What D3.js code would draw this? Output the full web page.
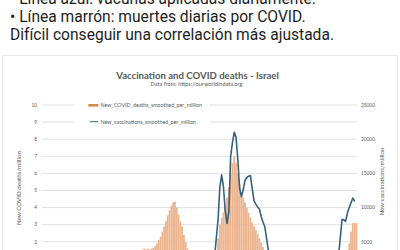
<!DOCTYPE html>
<html><head><meta charset="utf-8">
<script src="https://cdn.jsdelivr.net/npm/d3@7"></script>
<style>
html,body{margin:0;padding:0;background:#fff;overflow:hidden;width:400px;height:250px;}
</style></head>
<body><svg id="c" width="400" height="250"></svg>
<script>
// ---- data ----
const postLines = [
  "• Línea azul: vacunas aplicadas diariamente.",
  "• Línea marrón: muertes diarias por COVID.",
  "Difícil conseguir una correlación más ajustada."
];
const chartTitle = "Vaccination and COVID deaths - Israel";
const chartSubtitle = "Data from: https://ourworldindata.org";
const seriesNames = ["New_COVID_deaths_smoothed_per_million", "New_vaccinations_smoothed_per_million"];
const leftAxisTitle = "New COVID deaths/million";
const rightAxisTitle = "New vaccinations/million";
const leftTicks = [0,1,2,3,4,5,6,7,8,9,10];
const rightTicks = [0,5000,10000,15000,20000,25000];
const startDate = "2020-03-05", endDate = "2021-08-13", stepDays = 3;
// deaths per million, one value per 3-day step from 2020-03-05
const deaths = [
 0,0,0,0,0,0.02,0.05,0.1,0.2,0.35, 0.55,0.75,0.9,1.0,1.05,0.95,0.8,0.7,0.6,0.5,
 0.4,0.3,0.25,0.2,0.15,0.12,0.1,0.08,0.05,0.03, 0.02,0.02,0.03,0.02,0.03,0.05,0.05,0.06,0.08,0.1,
 0.15,0.2,0.3,0.4,0.5,0.6,0.7,0.8,0.9,1.0, 1.1,1.2,1.3,1.4,1.45,1.5,1.55,1.6,1.55,1.6,
 1.55,1.6,1.65,1.75,1.9,2.1,2.3,2.6,2.9,3.2, 3.55,3.85,4.1,4.3,4.35,4.0,3.6,3.2,2.9,2.4,
 2.0,1.6,1.35,1.2,1.1,1.0,0.95,0.9,0.9,0.95, 1.0,1.05,1.1,1.15,1.2,1.3,1.4,1.5,2.2,3.0,
 3.4,3.7,4.1,4.6,5.2,6.0,6.6,7.0,6.6,6.0, 5.4,4.9,4.6,4.3,4.0,3.7,3.4,3.1,2.9,2.7,
 2.45,2.2,1.95,1.7,1.5,1.3,1.1,0.95,0.8,0.65, 0.55,0.45,0.38,0.3,0.25,0.2,0.15,0.12,0.1,0.08,
 0.06,0.05,0.04,0.03,0.02,0.02,0.02,0.01,0.01,0.01, 0.01,0.01,0.01,0,0,0.01,0.01,0,0,0.01,
 0.01,0.02,0.02,0.03,0.05,0.07,0.1,0.15,0.5,0.8, 1.2,1.9,2.6,3.1,3.1,3.1
];
// vaccinations per million, same steps (null before the campaign)
const vaccinations = [
 ...Array(95).fill(null),
 0,2500,5500,8300,13000,14800,13000,9500,7700,9400,
 17500,19500,21000,20300,17000,12800,11600,12600,14000,14400,
 14600,14700,12800,11000,10500,10100,9800,8700,7900,7200,
 5500,3700,2800,2400,2200,2000,1800,1600,1500,1400,
 1300,1200,1100,1000,900,800,700,650,600,550,
 500,500,450,450,400,400,400,450,500,550,
 600,700,800,900,1000,1100,1200,1300,1400,1500,
 2800,5500,8300,8200,8000,9200,10000,10700,11400,10900
];

// ---- drawing ----
const W = 400, H = 250;
const svg = d3.select("#c");
const parse = d3.utcParse("%Y-%m-%d");
const dates = d3.utcDay.range(parse(startDate), d3.utcDay.offset(parse(endDate),1), stepDays).slice(0, deaths.length);

// post text
svg.selectAll("text.post").data(postLines).join("text")
  .attr("class","post")
  .attr("x", 10)
  .attr("y", (d,i)=> 3.7 + i*17.9)
  .attr("font-family","Roboto, 'Noto Sans', sans-serif")
  .attr("font-size", 15.6)
  .attr("fill","#1c1e21")
  .text(d=>d);

// card
svg.append("rect").attr("x",2.5).attr("y",55.5).attr("width",395).attr("height",260)
  .attr("fill","#fff").attr("stroke","#e8e8e8").attr("stroke-width",1);

const x0 = 42, x1 = 357;
const x = d3.scaleUtc().domain([parse(startDate), parse(endDate)]).range([x0, x1]);
const yL = d3.scaleLinear().domain([0,10]).range([276,105]);
const yR = d3.scaleLinear().domain([0,25000]).range([276,105]);
const font = "Lato, 'Open Sans', sans-serif";
const grey = "#595959";

// gridlines
svg.append("g").selectAll("line").data(leftTicks).join("line")
  .attr("x1",x0).attr("x2",x1).attr("y1",d=>yL(d)).attr("y2",d=>yL(d))
  .attr("stroke","#d9d9d9").attr("stroke-width",0.8);

// tick labels (only those that fall inside the window are drawn)
svg.append("g").selectAll("text").data(leftTicks.filter(d=>yL(d)+2<H)).join("text")
  .attr("x",37).attr("y",d=>yL(d)+1.7).attr("text-anchor","end")
  .attr("font-family",font).attr("font-size",4.8).attr("fill",grey).text(d=>d);
svg.append("g").selectAll("text").data(rightTicks.filter(d=>yR(d)+2<H)).join("text")
  .attr("x",361).attr("y",d=>yR(d)+1.7).attr("text-anchor","start")
  .attr("font-family",font).attr("font-size",4.8).attr("fill",grey).text(d=>d);

// axis titles
svg.append("text").attr("transform",`translate(21,188) rotate(-90)`).attr("text-anchor","middle")
  .attr("font-family",font).attr("font-size",6.2).attr("fill",grey).text(leftAxisTitle);
svg.append("text").attr("transform",`translate(384,181.5) rotate(-90)`).attr("text-anchor","middle")
  .attr("font-family",font).attr("font-size",6.2).attr("fill",grey).text(rightAxisTitle);

// title
svg.append("text").attr("x",197.5).attr("y",78.5).attr("text-anchor","middle")
  .attr("font-family",font).attr("font-weight","bold").attr("font-size",9.6).attr("fill",grey).text(chartTitle);
svg.append("text").attr("x",196.5).attr("y",86).attr("text-anchor","middle")
  .attr("font-family",font).attr("font-size",5.6).attr("fill",grey).text(chartSubtitle);

// deaths bars
const bw = (x1-x0)/deaths.length*1.0;
svg.append("g").selectAll("rect").data(deaths.map((v,i)=>({d:dates[i],v}))).join("rect")
  .attr("x",d=>x(d.d)-bw/2).attr("width",bw)
  .attr("y",d=>yL(d.v)).attr("height",d=>yL(0)-yL(d.v))
  .attr("fill","#ecb48f");

// vaccinations line
const line = d3.line().defined(d=>d.v!=null).x(d=>x(d.d)).y(d=>yR(d.v));
svg.append("path").datum(vaccinations.map((v,i)=>({d:dates[i],v})))
  .attr("d",line).attr("fill","none").attr("stroke","#36627e").attr("stroke-width",1.6)
  .attr("stroke-linejoin","round");

// legend
svg.append("rect").attr("x",74).attr("y",98).attr("width",135).attr("height",30).attr("fill","#fff");
svg.append("rect").attr("x",88.3).attr("y",104).attr("width",10).attr("height",2.6).attr("fill","#d58a52");
svg.append("line").attr("x1",90).attr("x2",98.3).attr("y1",121.7).attr("y2",121.7)
  .attr("stroke","#36627e").attr("stroke-width",1);
svg.append("g").selectAll("text").data(seriesNames).join("text")
  .attr("x",100.5).attr("y",(d,i)=>106.8 + i*17)
  .attr("font-family",font).attr("font-size",5.3).attr("fill",grey).text(d=>d);
</script></body></html>
